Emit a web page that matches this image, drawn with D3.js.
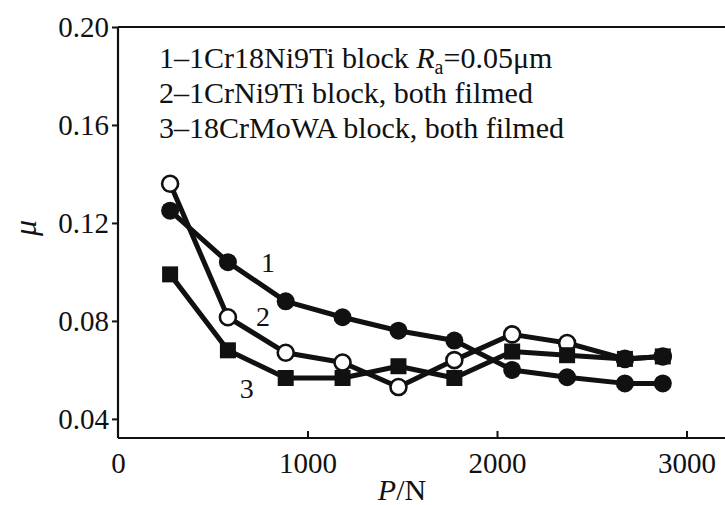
<!DOCTYPE html>
<html>
<head>
<meta charset="utf-8">
<script src="https://cdn.jsdelivr.net/npm/d3@7/dist/d3.min.js"></script>
<style>
  html, body { margin: 0; padding: 0; background: #fff; }
  svg { display: block; }
  text { font-family: "Liberation Serif", "Times New Roman", serif; fill: #111; }
</style>
</head>
<body>
<script>
// Applied load P (N) at each measurement
const loads = [275, 580, 885, 1185, 1480, 1775, 2080, 2370, 2675, 2875];

// Friction coefficient for each pairing
const series1 = [0.125, 0.104, 0.088, 0.0815, 0.076, 0.072, 0.060, 0.057, 0.0545, 0.0545];
const series2 = [0.136, 0.0815, 0.067, 0.063, 0.053, 0.064, 0.0745, 0.071, 0.0645, 0.0655];
const series3 = [0.099, 0.068, 0.0567, 0.0567, 0.0615, 0.0567, 0.0675, 0.066, 0.0645, 0.0655];

const xTicks = [0, 1000, 2000, 3000];
const yTicks = [0.04, 0.08, 0.12, 0.16, 0.20];

const legendLines = [
  "1\u20131Cr18Ni9Ti block ",
  "2\u20131CrNi9Ti block, both filmed",
  "3\u201318CrMoWA block, both filmed"
];

const W = 725, H = 505;
const svg = d3.select("body").append("svg").attr("width", W).attr("height", H);

const x = d3.scaleLinear().domain([0, 3200]).range([118, 724.4]);
const y = d3.scaleLinear().domain([0.0322, 0.20]).range([438, 27]);

// Frame: top edge
svg.append("line")
  .attr("x1", x(0)).attr("x2", W).attr("y1", y(0.20)).attr("y2", y(0.20))
  .attr("stroke", "#111").attr("stroke-width", 2.2);

// Y axis (ticks outward)
const yAxis = svg.append("g").attr("transform", `translate(${x(0)},0)`)
  .call(d3.axisLeft(y).tickValues(yTicks).tickFormat(d3.format(".2f")).tickSize(6).tickPadding(3));
yAxis.select(".domain").attr("stroke", "#111").attr("stroke-width", 2.2)
  .attr("d", `M0,${y(0.20)}V${y.range()[0]}`);
yAxis.selectAll(".tick line").attr("stroke", "#111").attr("stroke-width", 2);
yAxis.selectAll(".tick text").style("font-size", "29px").attr("dy", "0.34em");

// X axis (ticks inward)
const xAxis = svg.append("g").attr("transform", `translate(0,${y.range()[0]})`)
  .call(d3.axisBottom(x).tickValues(xTicks).tickFormat(d3.format("d")).tickSize(-7).tickPadding(14));
xAxis.select(".domain").attr("stroke", "#111").attr("stroke-width", 2.2)
  .attr("d", `M${x(0)},0H${W}`);
xAxis.selectAll(".tick line").attr("stroke", "#111").attr("stroke-width", 2)
  .attr("display", d => d === 0 ? "none" : null);
xAxis.selectAll(".tick text").style("font-size", "29px").attr("dy", "0.71em");

// Axis titles
const xt = svg.append("text").attr("x", 402).attr("y", 500).attr("text-anchor", "middle")
  .style("font-size", "30px");
xt.append("tspan").style("font-style", "italic").text("P");
xt.append("tspan").text("/N");

svg.append("text")
  .attr("transform", "translate(36,228) rotate(-90)")
  .attr("text-anchor", "middle")
  .style("font-size", "32px").style("font-style", "italic")
  .text("\u03bc");

// Legend text
const legend = svg.append("g").attr("transform", "translate(159,0)");
const l1 = legend.append("text").attr("x", 0).attr("y", 68).style("font-size", "30px");
l1.append("tspan").text(legendLines[0]);
l1.append("tspan").style("font-style", "italic").text("R");
l1.append("tspan").attr("dy", 6).style("font-size", "20px").text("a");
l1.append("tspan").attr("dy", -6).text("=0.05\u03bcm");
legend.append("text").attr("x", 0).attr("y", 103).style("font-size", "30px").text(legendLines[1]);
legend.append("text").attr("x", 0).attr("y", 138).style("font-size", "30px").text(legendLines[2]);

const line = d3.line().x((d, i) => x(loads[i])).y(d => y(d));

function drawSeries(vals, marker) {
  svg.append("path").datum(vals).attr("d", line)
    .attr("fill", "none").attr("stroke", "#111").attr("stroke-width", 5)
    .attr("stroke-linejoin", "round");
  const g = svg.append("g");
  if (marker === "open") {
    g.selectAll("circle").data(vals).join("circle")
      .attr("cx", (d, i) => x(loads[i])).attr("cy", d => y(d)).attr("r", 8)
      .attr("fill", "#fff").attr("stroke", "#111").attr("stroke-width", 2.6);
  } else if (marker === "filled") {
    g.selectAll("circle").data(vals).join("circle")
      .attr("cx", (d, i) => x(loads[i])).attr("cy", d => y(d)).attr("r", 9)
      .attr("fill", "#111");
  } else {
    g.selectAll("rect").data(vals).join("rect")
      .attr("x", (d, i) => x(loads[i]) - 8).attr("y", d => y(d) - 8)
      .attr("width", 16).attr("height", 16).attr("fill", "#111");
  }
}

drawSeries(series2, "open");
drawSeries(series1, "filled");
drawSeries(series3, "square");

// Curve numbers
const curveLabels = [
  { t: "1", i: 1, v: series1[1], dx: 40, dy: 10 },
  { t: "2", i: 1, v: series2[1], dx: 35, dy: 9 },
  { t: "3", i: 2, v: series3[2], dx: -39, dy: 20 }
];
svg.selectAll("text.curve").data(curveLabels).join("text").attr("class", "curve")
  .attr("x", d => x(loads[d.i]) + d.dx).attr("y", d => y(d.v) + d.dy)
  .attr("text-anchor", "middle").style("font-size", "28px").text(d => d.t);
</script>
</body>
</html>
